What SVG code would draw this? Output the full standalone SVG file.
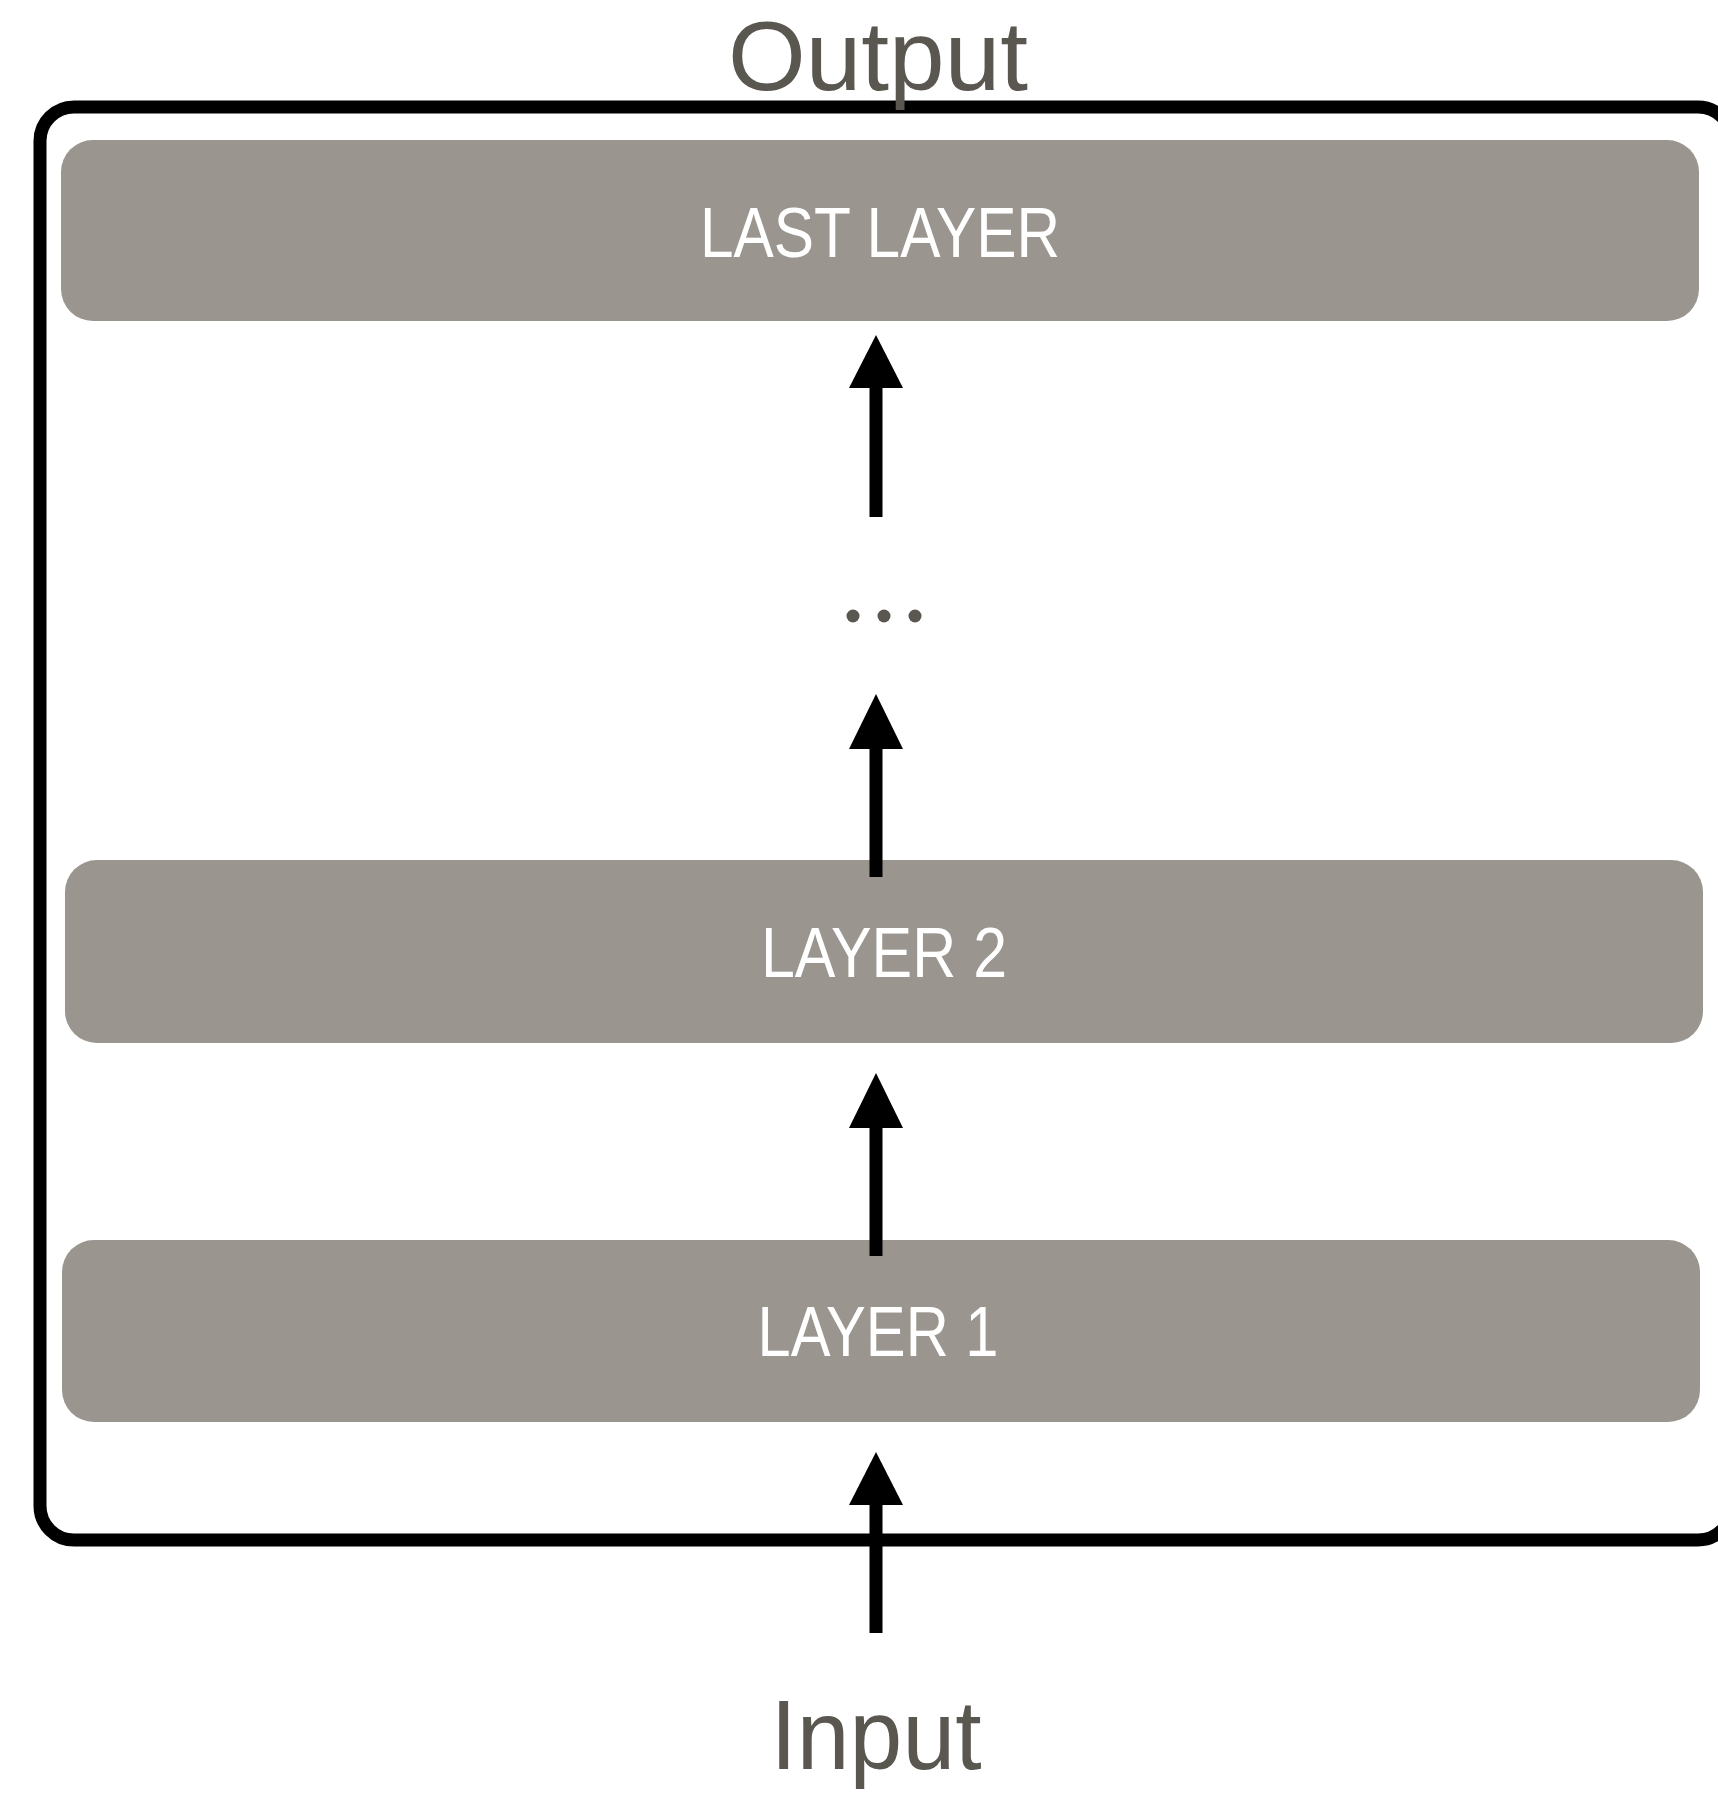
<svg xmlns="http://www.w3.org/2000/svg" width="1718" height="1793" viewBox="0 0 1718 1793">
  <defs>
    <style>
      .layer { fill: #9a958e; }
      .ltxt { fill: #ffffff; font-family: "Liberation Sans", Arial, sans-serif; font-size: 70px; text-anchor: middle; }
      .io { fill: #5a5650; font-family: "Liberation Sans", Arial, sans-serif; font-size: 98px; text-anchor: middle; }
      .shaft { stroke: #000000; stroke-width: 13; fill: none; }
      .head { fill: #000000; }
      .dot { fill: #5a5650; }
    </style>
  </defs>
  <rect x="0" y="0" width="1718" height="1793" fill="#ffffff"/>

  <g id="container">
    <rect x="40" y="107" width="1692" height="1433" rx="34" ry="34" fill="none" stroke="#000000" stroke-width="13"/>
  </g>

  <g id="output-label">
    <text class="io" x="878" y="90" textLength="300" lengthAdjust="spacingAndGlyphs">Output</text>
  </g>

  <g id="last-layer">
    <rect class="layer" x="61" y="140" width="1638" height="181" rx="32" ry="32"/>
    <text class="ltxt" x="880" y="257" textLength="360" lengthAdjust="spacingAndGlyphs">LAST LAYER</text>
  </g>

  <g id="ellipsis">
    <circle class="dot" cx="853" cy="616" r="6.5"/>
    <circle class="dot" cx="884" cy="616" r="6.5"/>
    <circle class="dot" cx="915" cy="616" r="6.5"/>
  </g>

  <g id="layer-2">
    <rect class="layer" x="65" y="860" width="1638" height="183" rx="32" ry="32"/>
    <text class="ltxt" x="884" y="977" textLength="246" lengthAdjust="spacingAndGlyphs">LAYER 2</text>
  </g>

  <g id="layer-1">
    <rect class="layer" x="62" y="1240" width="1638" height="182" rx="32" ry="32"/>
    <text class="ltxt" x="878" y="1356" textLength="241" lengthAdjust="spacingAndGlyphs">LAYER 1</text>
  </g>

  <g id="input-label">
    <text class="io" x="876" y="1769" textLength="211" lengthAdjust="spacingAndGlyphs">Input</text>
  </g>

  <g id="connectors">
    <line class="shaft" x1="876" y1="517" x2="876" y2="385"/>
    <polygon class="head" points="876,335 849,388 903,388"/>
    <line class="shaft" x1="876" y1="877" x2="876" y2="745"/>
    <polygon class="head" points="876,694 849,749 903,749"/>
    <line class="shaft" x1="876" y1="1256" x2="876" y2="1124"/>
    <polygon class="head" points="876,1073 849,1128 903,1128"/>
    <line class="shaft" x1="876" y1="1633" x2="876" y2="1500"/>
    <polygon class="head" points="876,1452 849,1505 903,1505"/>
  </g>
</svg>
